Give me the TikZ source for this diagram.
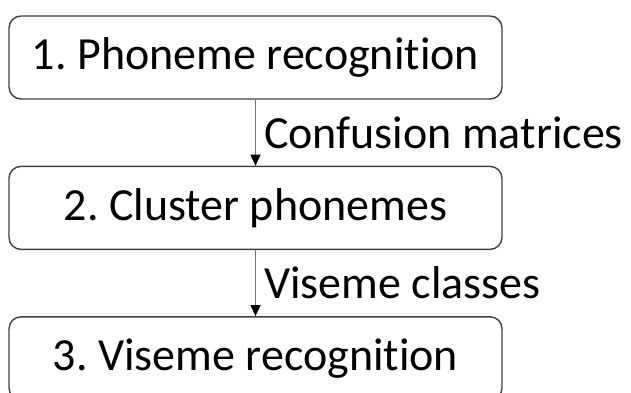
\documentclass[tikz,border=0pt]{standalone}
\usepackage{fontspec}
\setmainfont[Ligatures=NoCommon]{Carlito}
\usetikzlibrary{arrows.meta, chains, positioning}
\frenchspacing

\begin{document}
\begin{tikzpicture}[
    x = 1pt, y = 1pt,
    node distance = 66pt,
    start chain = S going below,
    stage/.style = {rectangle, rounded corners=12pt, draw=black!75, line width=1.4pt, minimum width=493pt, minimum height=83pt, inner sep=0pt, font=\fontsize{46}{55}\selectfont, on chain},
    flow/.style = {draw=black!55, line width=1.2pt, -{Triangle[length=11pt, width=10pt, black]}},
    note/.style = {right, inner xsep=8pt, font=\fontsize{46}{55}\selectfont},
]
    \useasboundingbox (0,0) rectangle (631,392);
    \begin{scope}[every node/.append style={stage}]
        % les trois étapes, de haut en bas
        \node at (255.5,334.5) {1. Phoneme recognition};
        \node {2. Cluster phonemes};
        \node {3. Viseme recognition};
    \end{scope}
    \draw[flow] (S-1) -- node[note] {Confusion matrices} (S-2);
    \draw[flow] (S-2) -- node[note] {Viseme classes} (S-3);
\end{tikzpicture}
\end{document}
